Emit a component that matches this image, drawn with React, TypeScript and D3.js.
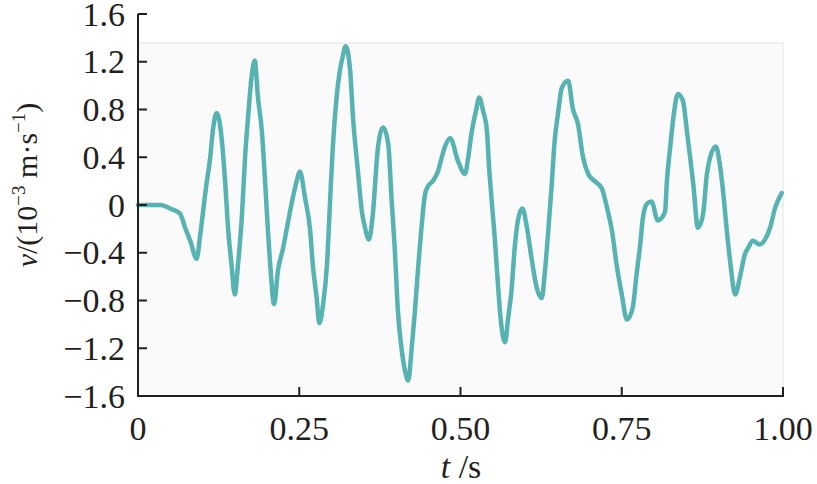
import React from "react";
import * as d3 from "d3";

const tValues = [
  0, 0.02, 0.035, 0.05, 0.065, 0.073, 0.081, 0.091, 0.096, 0.101, 0.106, 0.112, 0.116, 0.122,
  0.13, 0.135, 0.14, 0.145, 0.15, 0.155, 0.161, 0.166, 0.171, 0.176, 0.181, 0.186, 0.192,
  0.197, 0.2, 0.205, 0.211, 0.217, 0.225, 0.232, 0.24, 0.246, 0.251, 0.259, 0.267, 0.271,
  0.277, 0.281, 0.287, 0.293, 0.298, 0.302, 0.31, 0.318, 0.322, 0.329, 0.333, 0.341, 0.347,
  0.352, 0.358, 0.364, 0.372, 0.38, 0.388, 0.393, 0.398, 0.403, 0.409, 0.414, 0.419, 0.424,
  0.429, 0.434, 0.44, 0.445, 0.45, 0.457, 0.465, 0.471, 0.476, 0.484, 0.496, 0.507, 0.512,
  0.517, 0.524, 0.529, 0.535, 0.541, 0.544, 0.548, 0.553, 0.558, 0.562, 0.569, 0.574, 0.579,
  0.584, 0.589, 0.596, 0.603, 0.61, 0.618, 0.626, 0.631, 0.636, 0.641, 0.646, 0.651, 0.657,
  0.667, 0.674, 0.682, 0.69, 0.698, 0.708, 0.719, 0.727, 0.735, 0.742, 0.75, 0.758, 0.767,
  0.773, 0.778, 0.783, 0.789, 0.796, 0.806, 0.817, 0.82, 0.825, 0.83, 0.837, 0.845, 0.851,
  0.856, 0.861, 0.868, 0.876, 0.882, 0.887, 0.896, 0.902, 0.907, 0.913, 0.918, 0.926, 0.933,
  0.941, 0.946, 0.953, 0.964, 0.972, 0.98, 0.988, 0.998,
];

const vValues = [
  0, 0, 0, -0.03, -0.07, -0.19, -0.3, -0.45, -0.27, -0.05, 0.17, 0.4, 0.62, 0.77,
  0.54, 0.2, -0.22, -0.5, -0.75, -0.5, -0.1, 0.4, 0.76, 1.07, 1.21, 0.9, 0.62,
  0.2, -0.08, -0.5, -0.83, -0.55, -0.36, -0.16, 0.06, 0.2, 0.28, 0.06, -0.22, -0.5,
  -0.78, -0.99, -0.83, -0.5, 0.06, 0.48, 1.01, 1.26, 1.33, 1.12, 0.76, 0.28, -0.05,
  -0.19, -0.29, -0.08, 0.48, 0.65, 0.51, 0.06, -0.36, -0.89, -1.22, -1.39, -1.47, -1.22,
  -0.91, -0.55, -0.16, 0.09, 0.16, 0.2, 0.28, 0.4, 0.49, 0.56, 0.37, 0.26, 0.4,
  0.6, 0.79, 0.9, 0.79, 0.62, 0.34, 0.06, -0.27, -0.66, -0.94, -1.15, -0.94, -0.72,
  -0.36, -0.13, -0.03, -0.19, -0.44, -0.69, -0.78, -0.55, -0.22, 0.14, 0.54, 0.76, 0.98,
  1.04, 0.81, 0.68, 0.4, 0.26, 0.2, 0.14, -0.02, -0.22, -0.5, -0.75, -0.96, -0.86,
  -0.58, -0.36, -0.1, 0.01, 0.03, -0.13, -0.06, 0.2, 0.48, 0.73, 0.93, 0.87, 0.62,
  0.4, 0.17, -0.19, -0.08, 0.26, 0.4, 0.49, 0.34, 0.12, -0.22, -0.47, -0.75, -0.61,
  -0.41, -0.36, -0.3, -0.33, -0.29, -0.19, -0.02, 0.1,
];

const xTicks = [0, 0.25, 0.5, 0.75, 1.0];
const xTickLabels = ["0", "0.25", "0.50", "0.75", "1.00"];
const yTicks = [1.6, 1.2, 0.8, 0.4, 0, -0.4, -0.8, -1.2, -1.6];
const yTickLabels = ["1.6", "1.2", "0.8", "0.4", "0", "\u22120.4", "\u22120.8", "\u22121.2", "\u22121.6"];

const FONT = "'Liberation Serif', 'Times New Roman', serif";
const INK = "#231f20";
const LINE = "#56b3b1";

export default function App() {
  const W = 817;
  const H = 484;
  const x = d3.scaleLinear().domain([0, 1]).range([138, 783]);
  const y = d3.scaleLinear().domain([-1.6, 1.6]).range([396, 14]);

  const pts: [number, number][] = tValues.map((t, i) => [t, vValues[i]]);
  const line = d3
    .line<[number, number]>()
    .x((d) => x(d[0]))
    .y((d) => y(d[1]))
    .curve(d3.curveMonotoneX);

  const x0 = x(0);
  const x1 = x(1);
  const yb = y(-1.6);
  const yt = y(1.6);
  const bgTop = 43;

  return (
    <svg
      width={W}
      height={H}
      viewBox={`0 0 ${W} ${H}`}
      style={{ position: "absolute", left: 0, top: 0, background: "#fff" }}
    >
      <rect x={x0} y={bgTop} width={x1 - x0} height={yb - bgTop} fill="#fafafa" stroke="#e8e8e8" strokeWidth={1.2} />
      <path d={line(pts) || ""} fill="none" stroke={LINE} strokeWidth={4.5} strokeLinejoin="round" strokeLinecap="round" />

      {/* axes */}
      <line x1={x0} y1={yt} x2={x0} y2={yb} stroke={INK} strokeWidth={2} />
      <line x1={x0 - 1} y1={yb} x2={x1 + 1} y2={yb} stroke={INK} strokeWidth={2} />

      {yTicks.map((v, i) => (
        <g key={"y" + i}>
          <line x1={x0} x2={x0 + 9} y1={y(v)} y2={y(v)} stroke={INK} strokeWidth={2} />
          <text x={125} y={y(v) + 11.5} textAnchor="end" fontFamily={FONT} fontSize={34} fill={INK}>
            {yTickLabels[i]}
          </text>
        </g>
      ))}
      {xTicks.map((t, i) => (
        <g key={"x" + i}>
          <line x1={x(t)} x2={x(t)} y1={yb} y2={yb - 9} stroke={INK} strokeWidth={2} />
          <text x={x(t)} y={440} textAnchor="middle" fontFamily={FONT} fontSize={34} fill={INK}>
            {xTickLabels[i]}
          </text>
        </g>
      ))}

      <text x={461} y={478} textAnchor="middle" fontFamily={FONT} fontSize={34} fill={INK}>
        <tspan fontStyle="italic">t</tspan>
        <tspan> /s</tspan>
      </text>

      <text
        transform="translate(37,185) rotate(-90)"
        textAnchor="middle"
        fontFamily={FONT}
        fontSize={30}
        fill={INK}
      >
        <tspan fontStyle="italic">v</tspan>
        <tspan>/(10</tspan>
        <tspan fontSize={19} dy={-12}>{"\u22123"}</tspan>
        <tspan dy={12}> m·s</tspan>
        <tspan fontSize={19} dy={-12}>{"\u22121"}</tspan>
        <tspan dy={12}>)</tspan>
      </text>
    </svg>
  );
}
